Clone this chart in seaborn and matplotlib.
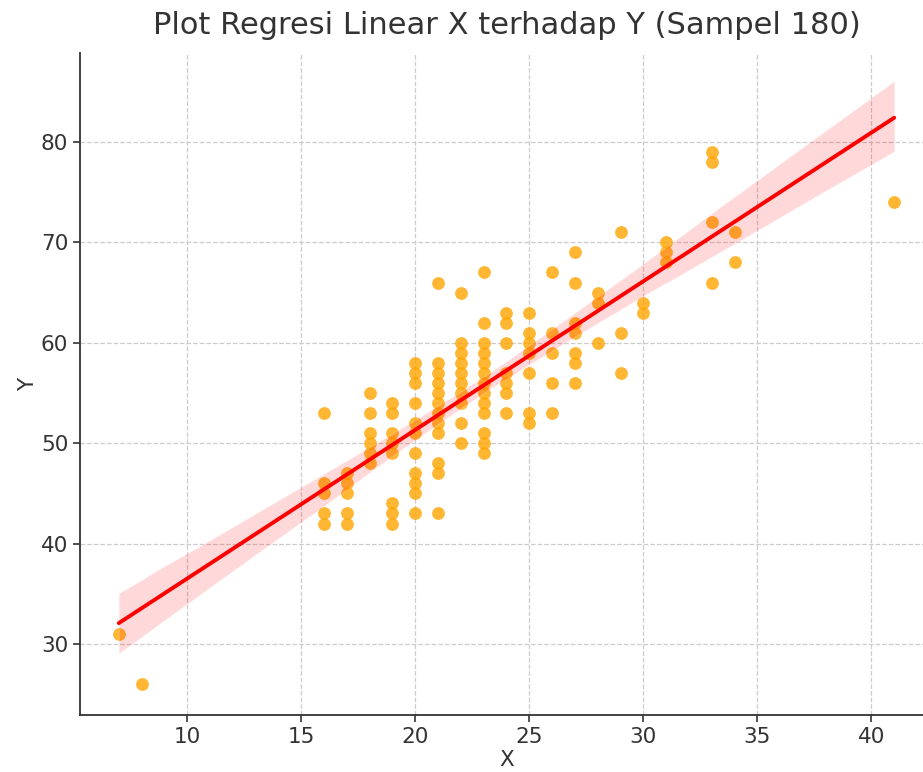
import numpy as np
import pandas as pd
import matplotlib
matplotlib.use("Agg")
import matplotlib.pyplot as plt
import seaborn as sns

# Data (points at integer X values)
x_vals = ([7] + [8] + [16] * 5 + [17] * 5 + [18] * 6 + [19] * 8 + [20] * 11 + [21] * 12
          + [22] * 10 + [23] * 13 + [24] * 7 + [25] * 7 + [26] * 5 + [27] * 7 + [28] * 3
          + [29] * 3 + [30] * 2 + [31] * 3 + [33] * 4 + [34] * 2 + [41])
y_vals = ([31] + [26]
          + [53, 46, 45, 43, 42]
          + [47, 46, 45, 43, 42]
          + [55, 53, 51, 50, 49, 48]
          + [54, 53, 51, 50, 49, 44, 43, 42]
          + [58, 57, 56, 54, 52, 51, 49, 47, 46, 45, 43]
          + [66, 58, 57, 56, 55, 54, 53, 52, 51, 48, 47, 43]
          + [65, 60, 59, 58, 57, 56, 55, 54, 52, 50]
          + [67, 62, 60, 59, 58, 57, 56, 55, 54, 53, 51, 50, 49]
          + [63, 62, 60, 57, 56, 55, 53]
          + [63, 61, 60, 59, 57, 53, 52]
          + [67, 61, 59, 56, 53]
          + [69, 66, 62, 61, 59, 58, 56]
          + [65, 64, 60]
          + [71, 61, 57]
          + [64, 63]
          + [70, 69, 68]
          + [79, 78, 72, 66]
          + [71, 68]
          + [74])
x_ticks = [10, 15, 20, 25, 30, 35, 40]
y_ticks = [30, 40, 50, 60, 70, 80]

df = pd.DataFrame({"X": x_vals, "Y": y_vals})

sns.set_style("white")
plt.rcParams["font.family"] = ["DejaVu Sans"]

fig = plt.figure(figsize=(9.23, 7.72), dpi=100)
ax = fig.add_axes([80 / 923, (772 - 715) / 772, (933 - 80) / 923, (715 - 53) / 772])

sns.regplot(data=df, x="X", y="Y", ax=ax, seed=1,
            scatter_kws={"color": "#FFA500", "alpha": 0.8, "s": 85, "linewidths": 0},
            line_kws={"color": "red", "linewidth": 2.8})

ax.set_xlim(5.3, 42.7)
ax.set_ylim(22.93, 88.86)
ax.set_xticks(x_ticks)
ax.set_yticks(y_ticks)

ax.grid(True, linestyle="--", color="#cccccc", linewidth=0.9)
ax.set_axisbelow(True)
for s in ["top", "right"]:
    ax.spines[s].set_visible(False)
for s in ["left", "bottom"]:
    ax.spines[s].set_color("#333333")
    ax.spines[s].set_linewidth(1.3)

ax.tick_params(axis="both", labelsize=15.5, colors="#333333", length=5, width=1.2,
               direction="out", left=True, bottom=True)
ax.set_xlabel("X", fontsize=15.5, color="#333333", labelpad=2)
ax.set_ylabel("Y", fontsize=15.5, color="#333333", labelpad=2)
ax.set_title("Plot Regresi Linear X terhadap Y (Sampel 180)", fontsize=22,
             color="#333333", pad=14)

fig.savefig("out.png", dpi=100)
